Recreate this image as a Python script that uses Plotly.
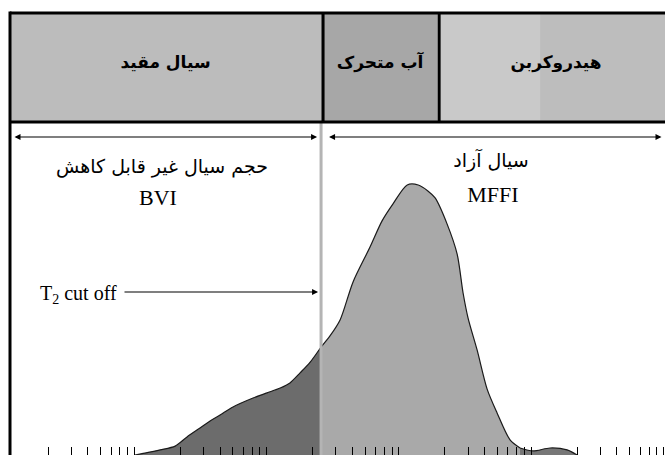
import math
import plotly.graph_objects as go

# NMR T2 distribution: relaxation time (ms) and incremental amplitude (normalised to peak)
t2_ms = [0.91, 1.08, 1.41, 1.83, 2.25, 2.82, 3.36, 4.0, 5.01, 7.10, 9.06, 11.4, 13.5,
         16.1, 19.2, 23.2, 27.1, 32.3, 40.5, 54.4, 67.1, 81.2, 104, 126, 149, 169,
         208, 248, 275, 300, 351, 418, 497, 623, 741, 930, 1250, 1681, 2000]
amplitude = [0.0, 0.007, 0.019, 0.033, 0.067, 0.100, 0.126, 0.148, 0.178, 0.211, 0.230,
             0.248, 0.267, 0.304, 0.344, 0.400, 0.441, 0.500, 0.641, 0.770, 0.867, 0.930,
             1.000, 1.000, 0.978, 0.952, 0.856, 0.744, 0.600, 0.507, 0.389, 0.244, 0.156,
             0.056, 0.026, 0.015, 0.026, 0.019, 0.0]

T2_CUTOFF = 23.2        # bound / free fluid cut-off (ms)
T2_FREE_WATER = 175     # movable water / hydrocarbon boundary (ms)
T2_HC_TAIL = 741        # start of the late hydrocarbon bump (ms)
T2_HC_SHADE = 1050      # shading change inside hydrocarbon cell

TICK_MANTISSAS = [2, 3, 4, 5, 6, 7, 8, 9]
TICK_DECADES = [0.1, 1, 10, 100, 1000]

HEADER_LABELS = ["سیال مقید", "آب متحرک", "هیدروکربن"]
BVI_LABEL = "حجم سیال غیر قابل کاهش"
FFI_LABEL = "سیال آزاد"
BVI_ABBR = "BVI"
FFI_ABBR = "MFFI"
CUTOFF_LABEL = "T<sub>2</sub> cut off"

X_LOG_RANGE = [-1.062, 3.966]
Y_MAX = 1.685

W, H = 665, 455
SPAN = X_LOG_RANGE[1] - X_LOG_RANGE[0]


def xfrac(t):
    """Fraction of the plot width for a T2 value on the log axis."""
    return (math.log10(t) - X_LOG_RANGE[0]) / SPAN


def frac_to_t(f):
    return 10 ** (X_LOG_RANGE[0] + f * SPAN)


def ypx(py):
    """Data y for a vertical pixel offset from the top."""
    return (1 - py / H) * Y_MAX


def segment(lo, hi):
    xs, ys = [], []
    for t, a in zip(t2_ms, amplitude):
        if lo <= t <= hi:
            xs.append(t)
            ys.append(a)
    return xs, ys


def text_mark(xs, ys, labels, family, size, position="middle center"):
    return go.Scatter(
        x=xs, y=ys, mode="text", text=labels, textposition=position,
        textfont=dict(family=family, size=size, color="black"),
        hoverinfo="skip", showlegend=False, cliponaxis=False,
    )


tickvals = [m * d for d in TICK_DECADES for m in TICK_MANTISSAS]

fig = go.Figure()

segments = [
    (0, T2_CUTOFF, "#6c6c6c"),
    (T2_CUTOFF, T2_HC_TAIL, "#a9a9a9"),
    (T2_HC_TAIL, 1e6, "#777777"),
]
for lo, hi, col in segments:
    xs, ys = segment(lo, hi)
    fig.add_trace(go.Scatter(
        x=xs, y=ys, mode="lines", fill="tozeroy", fillcolor=col,
        line=dict(color="#1a1a1a", width=1.2, shape="spline", smoothing=0.8),
        hoverinfo="skip", showlegend=False,
    ))

# geometry of the header band (paper fractions)
left_edge = 10 / W
hdr_top = 1 - 13 / H
hdr_bot = 1 - 122 / H
arrow_y = 1 - 137 / H
cut_y = 1 - 292 / H

shapes = []
cells = [
    (left_edge, xfrac(T2_CUTOFF), "#bcbcbc"),
    (xfrac(T2_CUTOFF), xfrac(T2_FREE_WATER), "#a7a7a7"),
    (xfrac(T2_FREE_WATER), xfrac(T2_HC_SHADE), "#c9c9c9"),
    (xfrac(T2_HC_SHADE), 1.01, "#bdbdbd"),
]
for x0, x1, col in cells:
    shapes.append(dict(type="rect", xref="paper", yref="paper", x0=x0, x1=x1,
                       y0=hdr_bot, y1=hdr_top, fillcolor=col, line=dict(width=0),
                       layer="below"))
# cut-off line through the plot
shapes.append(dict(type="line", xref="paper", yref="paper",
                   x0=xfrac(T2_CUTOFF), x1=xfrac(T2_CUTOFF), y0=0, y1=hdr_bot,
                   line=dict(color="#b4b4b4", width=3), layer="above"))
border = dict(color="black", width=3)
shapes += [
    dict(type="line", xref="paper", yref="paper", x0=left_edge, x1=1.01,
         y0=hdr_top, y1=hdr_top, line=border, layer="above"),
    dict(type="line", xref="paper", yref="paper", x0=left_edge, x1=1.01,
         y0=hdr_bot, y1=hdr_bot, line=border, layer="above"),
    dict(type="line", xref="paper", yref="paper", x0=left_edge, x1=left_edge,
         y0=0, y1=hdr_top + 1.5 / H, line=border, layer="above"),
]
for t in (T2_CUTOFF, T2_FREE_WATER):
    shapes.append(dict(type="line", xref="paper", yref="paper",
                       x0=xfrac(t) + 2 / W, x1=xfrac(t) + 2 / W,
                       y0=hdr_bot, y1=hdr_top, line=border, layer="above"))

persian = "DejaVu Sans"
serif = "Liberation Serif"

# header labels, centred on their cells
hdr_centres = [(left_edge + xfrac(T2_CUTOFF)) / 2,
               (xfrac(T2_CUTOFF) + xfrac(T2_FREE_WATER)) / 2 + 1 / W,
               556 / W]
fig.add_trace(text_mark([frac_to_t(f) for f in hdr_centres], [ypx(64)] * 3,
                        [f"<b>{s}</b>" for s in HEADER_LABELS], persian, 17))
# region captions
fig.add_trace(text_mark([frac_to_t(162 / W), frac_to_t(491 / W)],
                        [ypx(168), ypx(162)], [BVI_LABEL, FFI_LABEL], persian, 19))
fig.add_trace(text_mark([frac_to_t(158 / W), frac_to_t(493 / W)],
                        [ypx(199), ypx(196)], [BVI_ABBR, FFI_ABBR], serif, 22))
fig.add_trace(text_mark([frac_to_t(40 / W)], [ypx(295)], [CUTOFF_LABEL], serif, 20,
                        position="middle right"))

annotations = []
# double-headed range arrows
annotations.append(dict(x=xfrac(T2_CUTOFF), y=arrow_y, xref="paper", yref="paper",
                        xshift=-4, ax=-(xfrac(T2_CUTOFF) * W - 4 - 13), ay=0,
                        text="", showarrow=True, arrowhead=2, arrowside="end+start",
                        arrowsize=1, arrowwidth=1.2, arrowcolor="black"))
annotations.append(dict(x=xfrac(T2_CUTOFF), y=arrow_y, xref="paper", yref="paper",
                        xshift=8, ax=W - 2 - (xfrac(T2_CUTOFF) * W + 8), ay=0,
                        text="", showarrow=True, arrowhead=2, arrowside="end+start",
                        arrowsize=1, arrowwidth=1.2, arrowcolor="black"))
# cut-off pointer
annotations.append(dict(x=xfrac(T2_CUTOFF), y=cut_y, xref="paper", yref="paper",
                        xshift=-3, ax=-(xfrac(T2_CUTOFF) * W - 3 - 123), ay=0,
                        text="", showarrow=True, arrowhead=2, arrowsize=1,
                        arrowwidth=1.2, arrowcolor="black"))

fig.update_layout(
    width=W, height=H,
    margin=dict(l=0, r=0, t=0, b=0),
    paper_bgcolor="white", plot_bgcolor="white",
    showlegend=False,
    xaxis=dict(type="log", range=X_LOG_RANGE, domain=[0, 1], showgrid=False,
               zeroline=False, showline=False, ticks="inside", ticklen=8,
               tickwidth=1, tickcolor="black", tickvals=tickvals,
               showticklabels=False),
    yaxis=dict(range=[0, Y_MAX], domain=[0, 1], visible=False, fixedrange=True),
    shapes=shapes,
    annotations=annotations,
)

fig.write_html("out.html")
